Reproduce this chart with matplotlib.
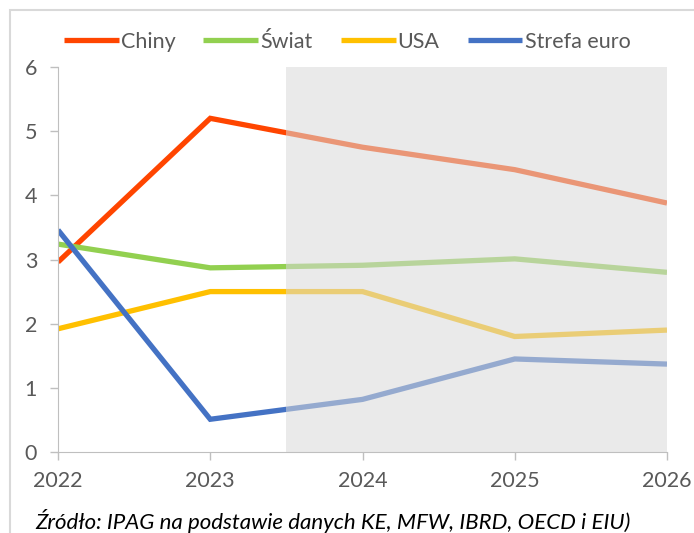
import matplotlib.pyplot as plt
from matplotlib.patches import Rectangle

plt.rcParams['font.family'] = ['Lato', 'DejaVu Sans']

years = [2022, 2023, 2024, 2025, 2026]
chiny = [2.96, 5.2, 4.75, 4.4, 3.88]
swiat = [3.24, 2.87, 2.91, 3.01, 2.8]
usa = [1.92, 2.5, 2.5, 1.8, 1.9]
euro = [3.46, 0.51, 0.82, 1.45, 1.37]

series = [
    ('Chiny', chiny, '#ff4500'),
    ('Świat', swiat, '#92d050'),
    ('USA', usa, '#ffc000'),
    ('Strefa euro', euro, '#4472c4'),
]
forecast_start = 2023.5

fig = plt.figure(figsize=(6.94, 5.33), dpi=100)
ax = fig.add_axes([58 / 694, 1 - 452 / 533, (667 - 58) / 694, (452 - 67) / 533])

for name, vals, col in series:
    ax.plot(years, vals, color=col, lw=3.8, label=name, solid_capstyle='butt',
            solid_joinstyle='miter', zorder=2)

# shaded forecast area sits over the lines, so they look paler there
ax.axvspan(forecast_start, years[-1], color='#d9d9d9', alpha=0.55, lw=0, zorder=3)

ax.set_xlim(years[0], years[-1])
ax.set_ylim(0, 6)
ax.set_xticks(years)
ax.set_yticks(range(0, 7))
for s in ['top', 'right']:
    ax.spines[s].set_visible(False)
for s in ['left', 'bottom']:
    ax.spines[s].set_color('#bfbfbf')
    ax.spines[s].set_zorder(4)
ax.tick_params(colors='#595959', labelsize=15.5, length=6, width=1)
ax.tick_params(axis='both', color='#bfbfbf')
ax.tick_params(axis='x', pad=8)
ax.tick_params(axis='y', pad=9)

fig.legend(loc='center', bbox_to_anchor=(0.5, 1 - 42 / 533), ncol=4, frameon=False,
           fontsize=15.5, labelcolor='#595959', handlelength=2.55, handletextpad=0.1,
           columnspacing=1.3)

# chart area border
fig.patches.append(Rectangle((10 / 694, -0.1), 1.2, 1 - 10 / 533 + 0.1,
                             transform=fig.transFigure, fill=False,
                             edgecolor='#d9d9d9', lw=1.5))

fig.text(35 / 694, 1 - 521 / 533, 'Źródło: IPAG na podstawie danych KE, MFW, IBRD, OECD i EIU)',
         fontsize=16, style='italic', color='black', va='center', ha='left')

fig.savefig('out.png', dpi=100)
